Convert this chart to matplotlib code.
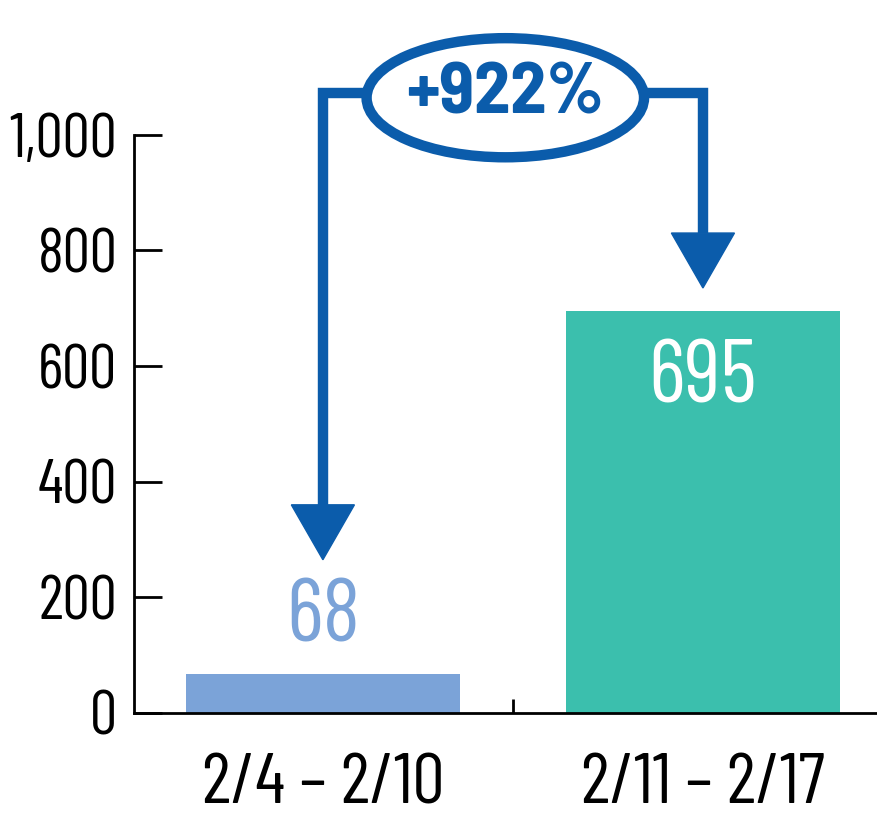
"""Weekly count comparison bar chart with percent-change callout."""

import matplotlib
matplotlib.use('Agg')
import matplotlib.pyplot as plt
from matplotlib.patches import Ellipse, Polygon

weeks = ['2/4 \u2013 2/10', '2/11 \u2013 2/17']
counts = [68, 695]
pct_change = '+922%'
y_ticks = [0, 200, 400, 600, 800, 1000]
y_tick_labels = ['0', '200', '400', '600', '800', '1,000']

bar_colors = ['#7ba3d8', '#3bbfad']
label_colors = ['#7ba3d8', 'white']
arrow_color = '#0b5cab'

plt.rcParams['font.family'] = ['Barlow Condensed', 'DejaVu Sans']

fig = plt.figure(figsize=(8.77, 8.17), dpi=100)
ax = fig.add_axes([0.1528, 0.1273, 0.8472, 0.8727])

x = list(range(len(weeks)))
ax.bar(x, counts, width=0.72, color=bar_colors)

# value labels: first above its bar, second inside the bar
ax.text(0, counts[0] + 95, str(counts[0]), ha='center', va='center',
        fontsize=64, color=label_colors[0])
ax.text(1, counts[1] - 118, str(counts[1]), ha='center', va='center',
        fontsize=64, color=label_colors[1])

ax.set_xlim(-0.497, 1.458)
ax.set_ylim(0, 1233)

for side in ['top', 'right']:
    ax.spines[side].set_visible(False)
ax.spines['left'].set_bounds(0, 1000)
ax.spines['left'].set_linewidth(2)
ax.spines['bottom'].set_linewidth(2)

ax.set_yticks(y_ticks)
ax.set_yticklabels(y_tick_labels)
ax.tick_params(axis='y', direction='in', length=20, width=2, pad=12,
               labelsize=44)
ax.set_xticks(x)
ax.set_xticklabels(weeks)
ax.tick_params(axis='x', which='major', length=0, pad=29, labelsize=52)
ax.set_xticks([0.5], minor=True)
ax.tick_params(axis='x', which='minor', direction='in', length=10, width=2)

# callout: ellipse with percent change and arrows down to each bar
ell_x, ell_y, ell_w, ell_h = 0.48, 1064, 0.73, 206
line_y = 1073
lw = 7.5
ax.add_patch(Ellipse((ell_x, ell_y), ell_w, ell_h, facecolor='white',
                     edgecolor=arrow_color, linewidth=lw, clip_on=False,
                     zorder=4))
ax.text(ell_x, ell_y + 4, pct_change, ha='center', va='center', fontsize=52,
        fontweight='bold', color=arrow_color,
        family=['Barlow Semi Condensed', 'DejaVu Sans'], zorder=5)

left_tip, right_tip = 265, 735
head_h, head_half_w = 95, 0.083
ax.plot([ell_x - ell_w / 2, 0, 0], [line_y, line_y, left_tip + head_h],
        color=arrow_color, linewidth=lw, solid_joinstyle='miter',
        solid_capstyle='butt', clip_on=False, zorder=3)
ax.plot([ell_x + ell_w / 2, 1, 1], [line_y, line_y, right_tip + head_h],
        color=arrow_color, linewidth=lw, solid_joinstyle='miter',
        solid_capstyle='butt', clip_on=False, zorder=3)
for cx, tip in [(0, left_tip), (1, right_tip)]:
    ax.add_patch(Polygon([(cx - head_half_w, tip + head_h),
                          (cx + head_half_w, tip + head_h),
                          (cx, tip)], closed=True, color=arrow_color,
                         clip_on=False, zorder=3))

plt.savefig('out.png', dpi=100)
plt.close()
